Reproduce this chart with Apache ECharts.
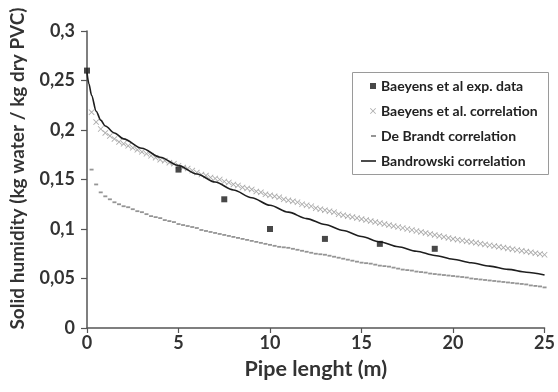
<!DOCTYPE html>
<html>
<head>
<meta charset="utf-8">
<script src="https://cdn.jsdelivr.net/npm/echarts@6/dist/echarts.min.js"></script>
<style>
html, body { margin: 0; padding: 0; background: #fff; }
#view { width: 558px; height: 392px; }
</style>
</head>
<body>
<div id="view"></div>
<script>
// experimental points
var expX = [0, 5, 7.5, 10, 13, 16, 19];
var expY = [0.26, 0.16, 0.13, 0.10, 0.09, 0.085, 0.08];

// sample positions of the two marker-drawn correlations
var corrX = [0.25,0.5,0.75,1,1.25,1.5,1.75,2,2.25,2.5,2.75,3,3.25,3.5,3.75,4,4.25,4.5,4.75,5,
    5.25,5.5,5.75,6,6.25,6.5,6.75,7,7.25,7.5,7.75,8,8.25,8.5,8.75,9,9.25,9.5,9.75,10,
    10.25,10.5,10.75,11,11.25,11.5,11.75,12,12.25,12.5,12.75,13,13.25,13.5,13.75,14,14.25,14.5,14.75,15,
    15.25,15.5,15.75,16,16.25,16.5,16.75,17,17.25,17.5,17.75,18,18.25,18.5,18.75,19,19.25,19.5,19.75,20,
    20.25,20.5,20.75,21,21.25,21.5,21.75,22,22.25,22.5,22.75,23,23.25,23.5,23.75,24,24.25,24.5,24.75,25];

var baeyensY = [0.218,0.208,0.201,0.197,0.194,0.191,0.188,0.186,0.184,0.182,0.180,0.178,0.176,0.174,0.172,0.170,0.169,0.167,0.166,0.164,
    0.162,0.161,0.159,0.157,0.155,0.154,0.152,0.151,0.150,0.148,0.147,0.145,0.144,0.142,0.141,0.140,0.138,0.137,0.135,0.134,
    0.133,0.132,0.130,0.129,0.128,0.127,0.125,0.124,0.123,0.121,0.120,0.119,0.118,0.117,0.115,0.114,0.113,0.112,0.111,0.110,
    0.109,0.108,0.107,0.106,0.105,0.104,0.103,0.102,0.101,0.100,0.099,0.098,0.097,0.096,0.095,0.094,0.093,0.092,0.091,0.090,
    0.0892,0.0884,0.0876,0.0868,0.0860,0.0852,0.0844,0.0836,0.0828,0.0820,0.0812,0.0804,0.0796,0.0788,0.0780,0.0772,0.0764,0.0756,0.0748,0.0740];

var deBrandtY = [0.160,0.145,0.137,0.133,0.130,0.127,0.125,0.123,0.122,0.120,0.118,0.117,0.115,0.113,0.112,0.111,0.109,0.108,0.107,0.105,
    0.104,0.103,0.102,0.101,0.099,0.098,0.097,0.096,0.095,0.094,0.093,0.092,0.091,0.090,0.089,0.088,0.087,0.086,0.085,0.084,
    0.083,0.082,0.0815,0.081,0.080,0.079,0.078,0.077,0.076,0.075,0.0745,0.074,0.073,0.072,0.071,0.070,0.069,0.068,0.067,0.066,
    0.0655,0.065,0.064,0.063,0.0625,0.062,0.061,0.060,0.059,0.0585,0.058,0.057,0.0565,0.056,0.055,0.0545,0.054,0.0535,0.053,0.0525,
    0.052,0.0515,0.051,0.050,0.0495,0.049,0.0485,0.048,0.0475,0.047,0.0465,0.046,0.0455,0.045,0.0445,0.044,0.043,0.0425,0.042,0.041];

// Bandrowski curve (solid line)
var bandX = [0, 0.1, 0.25, 0.5, 0.75, 1, 1.5, 2, 3, 4, 5, 6, 7, 8, 9, 10, 11, 12, 13, 14, 15, 16, 17, 18, 19, 20, 21, 22, 23, 24, 25];
var bandY = [0.258, 0.247, 0.235, 0.219, 0.210, 0.204, 0.197, 0.191, 0.1815, 0.1725, 0.164, 0.1556, 0.1474, 0.1394, 0.1316, 0.124, 0.117, 0.1105, 0.1045, 0.0985, 0.0925, 0.087, 0.082, 0.0775, 0.0733, 0.0695, 0.0659, 0.0625, 0.0592, 0.0563, 0.0535];

var names = ['Baeyens et al exp. data', 'Baeyens et al. correlation', 'De Brandt correlation', 'Bandrowski correlation'];

function pairs(xs, ys) {
    return xs.map(function (x, i) { return [x, ys[i]]; });
}

var FONT = 'Lato';
var crossPath = 'path://M0,1L1,0L5,4L9,0L10,1L6,5L10,9L9,10L5,6L1,10L0,9L4,5Z';
var legendText = { fontFamily: FONT, fontWeight: 'bold', fontSize: 14, color: '#222' };

var myChart = echarts.init(document.getElementById('view'));

option = {
    animation: false,
    backgroundColor: '#fff',
    grid: { left: 84, right: 12, top: 31, bottom: 64 },
    graphic: [{
        type: 'rect',
        shape: { x: 352.5, y: 72.5, width: 196, height: 102 },
        style: { fill: '#fff', stroke: '#9a9a9a', lineWidth: 1 },
        z: 0
    }],
    legend: [
        { data: [names[0]], left: 370, top: 79, itemWidth: 6, itemHeight: 6, padding: 0, selectedMode: false, textStyle: legendText },
        { data: [names[1]], left: 370, top: 104, itemWidth: 6, itemHeight: 6, padding: 0, selectedMode: false, textStyle: legendText },
        { data: [names[2]], left: 371, top: 129, itemWidth: 5, itemHeight: 2, padding: 0, selectedMode: false, textStyle: legendText },
        { data: [{ name: names[3], icon: 'rect' }], left: 361, top: 154, itemWidth: 15, itemHeight: 1.6, padding: 0, selectedMode: false, textStyle: legendText }
    ],
    xAxis: {
        type: 'value',
        min: 0, max: 25, interval: 5,
        name: 'Pipe lenght (m)',
        nameLocation: 'middle',
        nameGap: 30,
        nameTextStyle: { fontFamily: FONT, fontWeight: 'bold', fontSize: 21.5, color: '#333' },
        axisLine: { lineStyle: { color: '#555', width: 1.5 } },
        axisTick: { show: true, inside: false, length: 5, lineStyle: { color: '#555', width: 1.2 } },
        axisLabel: { margin: 6, fontFamily: FONT, fontWeight: 'bold', fontSize: 18, color: '#333' },
        splitLine: { show: false }
    },
    yAxis: {
        type: 'value',
        min: 0, max: 0.3, interval: 0.05,
        name: 'Solid humidity (kg water / kg dry PVC)',
        nameLocation: 'middle',
        nameRotate: 90,
        nameGap: 60,
        nameTextStyle: { fontFamily: FONT, fontWeight: 'bold', fontSize: 19, color: '#333', padding: [0, 0, 0, 22] },
        axisLine: { show: true, lineStyle: { color: '#555', width: 1.5 } },
        axisTick: { show: true, inside: false, length: 6, lineStyle: { color: '#555', width: 1.2 } },
        axisLabel: {
            margin: 12, fontFamily: FONT, fontWeight: 'bold', fontSize: 18, color: '#333',
            formatter: function (v) { return String(+v.toFixed(2)).replace('.', ','); }
        },
        splitLine: { show: false }
    },
    series: [{
        name: names[1],
        type: 'scatter',
        symbol: crossPath,
        symbolSize: 6,
        itemStyle: { color: '#959595' },
        data: pairs(corrX, baeyensY),
        z: 2
    }, {
        name: names[2],
        type: 'scatter',
        symbol: 'rect',
        symbolSize: [4, 1.8],
        itemStyle: { color: '#7a7a7a' },
        data: pairs(corrX, deBrandtY),
        z: 2
    }, {
        name: names[3],
        type: 'line',
        symbol: 'none',
        smooth: 0.3,
        smoothMonotone: 'x',
        lineStyle: { color: '#1e1e1e', width: 1.6 },
        itemStyle: { color: '#1e1e1e' },
        data: pairs(bandX, bandY),
        z: 3
    }, {
        name: names[0],
        type: 'scatter',
        symbol: 'rect',
        symbolSize: 6,
        itemStyle: { color: '#1a1a1a' },
        data: pairs(expX, expY),
        z: 4
    }]
};

myChart.setOption(option);
</script>
</body>
</html>
